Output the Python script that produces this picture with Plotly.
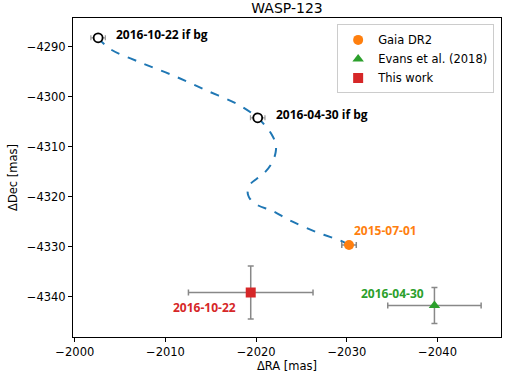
import plotly.graph_objects as go

# background track (if the companion were a background star)
track_ra = [-2002.57, -2003.86, -2007.17, -2010.85, -2014.54, -2018.21, -2020.17,
            -2020.97, -2021.71, -2022.15, -2022.15, -2021.78, -2020.97, -2020.06,
            -2019.32, -2019.13, -2019.06, -2019.13, -2019.32, -2020.23, -2021.71,
            -2023.73, -2026.68, -2029.25, -2029.99, -2030.24]
track_dec = [-4288.26, -4290.46, -4293.14, -4295.80, -4298.80, -4301.80, -4304.26,
             -4305.80, -4307.60, -4309.46, -4311.14, -4313.14, -4315.14, -4316.46,
             -4317.60, -4318.46, -4319.14, -4319.80, -4320.46, -4321.80, -4322.80,
             -4324.80, -4327.14, -4328.80, -4329.46, -4329.70]

# predicted background positions
bg_ra = [-2002.57, -2020.17]
bg_dec = [-4288.26, -4304.26]
bg_ra_err = [0.8, 0.8]
bg_dec_err = [0.5, 0.5]
bg_labels = ["2016-10-22 if bg", "2016-04-30 if bg"]

# measurements
obs_names = ["Gaia DR2", "Evans et al. (2018)", "This work"]
obs_dates = ["2015-07-01", "2016-04-30", "2016-10-22"]
obs_ra = [-2030.24, -2039.66, -2019.40]
obs_dec = [-4329.70, -4341.80, -4339.20]
obs_ra_err = [0.8, 5.15, 6.87]
obs_dec_err = [0.5, 3.6, 5.3]
obs_colors = ["#ff7f0e", "#2ca02c", "#d62728"]
obs_symbols = ["circle", "triangle-up", "square"]

fig = go.Figure()

fig.add_trace(go.Scatter(x=track_ra, y=track_dec, mode="lines", line_shape="spline",
                         line=dict(color="#1f77b4", width=2, dash="dash", smoothing=1),
                         showlegend=False, hoverinfo="skip"))

fig.add_trace(go.Scatter(x=bg_ra, y=bg_dec, mode="markers", showlegend=False,
                         marker=dict(symbol="circle", size=9, color="white",
                                     line=dict(color="black", width=1.8)),
                         error_x=dict(type="data", array=bg_ra_err, color="#999999", thickness=1.2, width=2.5),
                         error_y=dict(type="data", array=bg_dec_err, color="#999999", thickness=1.2, width=2.5)))

for i in range(3):
    fig.add_trace(go.Scatter(x=[obs_ra[i]], y=[obs_dec[i]], mode="markers", name=obs_names[i],
                             marker=dict(symbol=obs_symbols[i], size=10, color=obs_colors[i]),
                             error_x=dict(type="data", array=[obs_ra_err[i]], color="#888888", thickness=1.5, width=3),
                             error_y=dict(type="data", array=[obs_dec_err[i]], color="#888888", thickness=1.5, width=3)))

ann = [
    (-2004.6, -4287.5, bg_labels[0], "black"),
    (-2022.33, -4303.6, bg_labels[1], "black"),
    (-2030.9, -4326.8, obs_dates[0], obs_colors[0]),
    (-2031.64, -4339.46, obs_dates[1], obs_colors[1]),
    (-2010.9, -4342.1, obs_dates[2], obs_colors[2]),
]
for ax, ay, txt, col in ann:
    fig.add_annotation(x=ax, y=ay, text=txt, showarrow=False, xanchor="left", yanchor="middle",
                       xshift=-3, font=dict(family="Open Sans", size=12, color=col, weight="bold"))

axis_common = dict(showline=True, linecolor="black", linewidth=1, mirror=True,
                   ticks="outside", ticklen=4, tickcolor="black", showgrid=False, zeroline=False,
                   automargin=False,
                   tickfont=dict(family="DejaVu Sans", size=11.5, color="black"),
                   title_font=dict(family="DejaVu Sans", size=11.5, color="black"))

fig.update_layout(
    width=513, height=374,
    margin=dict(l=73, r=12, t=18, b=37),
    paper_bgcolor="white", plot_bgcolor="white",
    title=dict(text="WASP-123", x=0.5, xref="paper", y=0.979, yanchor="middle",
               font=dict(family="DejaVu Sans", size=14, color="black")),
    xaxis=dict(range=[-1999.8, -2047], tickvals=[-2000, -2010, -2020, -2030, -2040],
               title=dict(text="ΔRA [mas]", standoff=2), **axis_common),
    yaxis=dict(range=[-4348.1, -4284.3], tickvals=[-4340, -4330, -4320, -4310, -4300, -4290],
               title=dict(text="ΔDec [mas]", standoff=6), **axis_common),
    legend=dict(x=0.984, y=0.98, xanchor="right", yanchor="top", bgcolor="white",
                bordercolor="#cccccc", borderwidth=1,
                font=dict(family="DejaVu Sans", size=11.5, color="black"),
                tracegroupgap=0),
)

# drop the default page margin so the figure sits at the window's corner
fig.write_html("out.html", config={"displayModeBar": False},
               post_script="document.body.style.margin='0';")
